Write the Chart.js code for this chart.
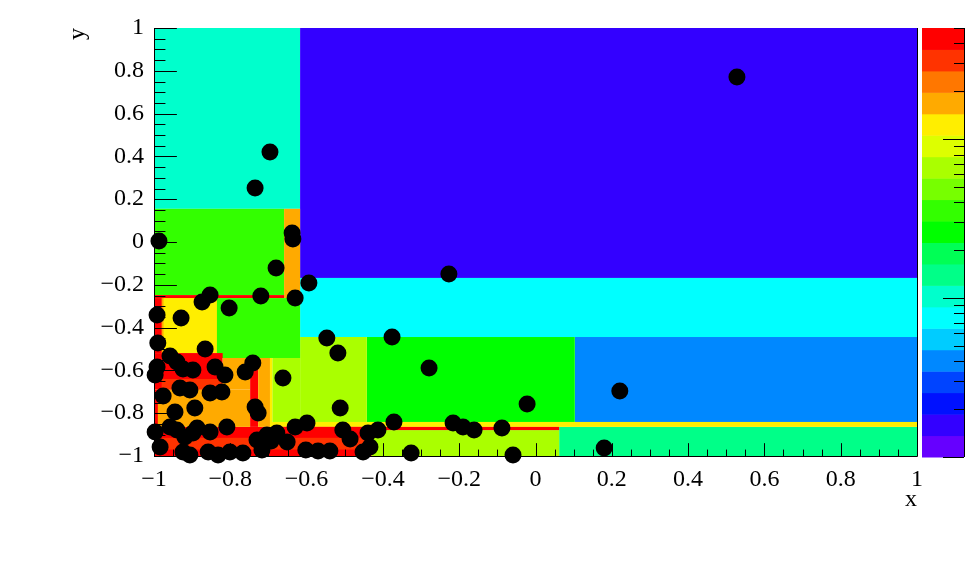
<!DOCTYPE html>
<html>
<head>
<meta charset="utf-8">
<script src="https://cdn.jsdelivr.net/npm/chart.js@4.4.0/dist/chart.umd.min.js"></script>
<style>
    body { margin: 0; background: #fff; }
</style>
</head>
<body>
<canvas id="kdChart" width="966" height="572"></canvas>
<script>
// palette levels, lowest first (20 contours)
var paletteColors = ['#6600FF', '#3300FF', '#0011FF', '#0044FF', '#0088FF', '#00CCFF', '#00FFFF', '#00FFCC',
    '#00FF88', '#00FF55', '#00FF00', '#33FF00', '#77FF00', '#AAFF00', '#DDFF00', '#FFEE00',
    '#FFAA00', '#FF7700', '#FF3300', '#FF0000'];
var paletteMin = 1;
var paletteMax = 500;

// kd-tree bins: x range, y range, palette level
var binX1 = [-1, -0.617, -0.617, 0.103, -0.442, 0.062, -0.696, -0.43, -0.696, -1, -0.98,
    -1, -0.659, -1, -1, -0.98, -0.975, -0.69, -0.617, -0.835,
    -1, -0.98, -0.82, -1, -1, -0.748, -0.727, -0.696];
var binX2 = [-0.617, 1, 1, 1, 0.103, 1, 1, 0.062, 0.062, -0.43, -0.44,
    -0.659, -0.617, -0.659, -0.835, -0.835, -0.835, -0.617, -0.442, -0.617,
    -0.82, -0.82, -0.748, -0.748, -0.99, -0.727, -0.696, -0.69];
var binY1 = [0.155, -0.168, -0.444, -0.841, -0.841, -1, -0.864, -1, -0.879, -1, -0.97,
    -0.248, -0.262, -0.262, -0.519, -0.519, -0.519, -0.841, -0.841, -0.542,
    -0.69, -0.69, -0.69, -0.864, -0.864, -0.864, -0.864, -0.864];
var binY2 = [1, 1, -0.168, -0.444, -0.444, -0.864, -0.841, -0.879, -0.864, -0.864, -0.915,
    0.155, 0.155, -0.248, -0.262, -0.262, -0.262, -0.542, -0.444, -0.262,
    -0.519, -0.64, -0.542, -0.69, -0.69, -0.542, -0.542, -0.542];
var binLevel = [7, 1, 6, 4, 10, 8, 15, 13, 19, 19, 18,
    11, 16, 19, 19, 16, 15, 13, 13, 11,
    19, 18, 16, 16, 19, 19, 16, 15];

// sample points
var pointsX = [0.528, -0.696, -0.735, -0.987, -0.638, -0.636, -0.680, -0.594, -0.630, -0.720,
    -0.853, -0.874, -0.803, -0.992, -0.929, -0.227, -0.547, -0.518, -0.376, -0.279,
    -0.022, 0.221, 0.180, -0.059, -0.088, -0.161, -0.190, -0.216, -0.326, -0.371,
    -0.413, -0.439, -0.434, -0.452, -0.505, -0.486, -0.512, -0.539, -0.570, -0.602,
    -0.599, -0.630, -0.651, -0.678, -0.704, -0.730, -0.662, -0.735, -0.727, -0.741,
    -0.761, -0.809, -0.853, -0.840, -0.814, -0.866, -0.990, -0.958, -0.940, -0.992,
    -0.997, -0.924, -0.898, -0.932, -0.906, -0.853, -0.822, -0.976, -0.893, -0.945,
    -0.997, -0.984, -0.958, -0.940, -0.919, -0.898, -0.887, -0.924, -0.906, -0.858,
    -0.832, -0.801, -0.767, -0.717, -0.693];
var pointsY = [0.771, 0.421, 0.252, 0.005, 0.042, 0.014, -0.121, -0.192, -0.262, -0.252,
    -0.248, -0.280, -0.308, -0.341, -0.355, -0.150, -0.449, -0.519, -0.444, -0.589,
    -0.757, -0.696, -0.963, -0.995, -0.869, -0.879, -0.864, -0.846, -0.986, -0.841,
    -0.879, -0.893, -0.958, -0.981, -0.879, -0.921, -0.776, -0.977, -0.977, -0.972,
    -0.846, -0.864, -0.935, -0.893, -0.902, -0.925, -0.636, -0.771, -0.799, -0.565,
    -0.607, -0.864, -0.888, -0.584, -0.621, -0.500, -0.472, -0.533, -0.561, -0.584,
    -0.621, -0.593, -0.598, -0.682, -0.692, -0.706, -0.701, -0.720, -0.776, -0.794,
    -0.888, -0.958, -0.864, -0.879, -0.911, -0.893, -0.869, -0.981, -0.995, -0.981,
    -0.995, -0.981, -0.986, -0.972, -0.930];

var axisTicks = [-1, -0.8, -0.6, -0.4, -0.2, 0, 0.2, 0.4, 0.6, 0.8, 1];

var points = [];
for (var i = 0; i < pointsX.length; i++) {
    points.push({ x: pointsX[i], y: pointsY[i] });
}

function tickText(v) {
    var s = (Math.round(v * 10) / 10).toString();
    return s.replace('-', '\u2212');
}

var serif = '"Liberation Serif", "DejaVu Serif", serif';

// bins, frame, inward ticks and the colour palette
var kdPlugin = {
    id: 'kdPlugin',
    beforeDatasetsDraw: function (chart) {
        var ctx = chart.ctx;
        var xs = chart.scales.x, ys = chart.scales.y;
        var area = chart.chartArea;
        ctx.save();
        for (var i = 0; i < binX1.length; i++) {
            var l = xs.getPixelForValue(binX1[i]);
            var r = xs.getPixelForValue(binX2[i]);
            var t = ys.getPixelForValue(binY2[i]);
            var b = ys.getPixelForValue(binY1[i]);
            ctx.fillStyle = paletteColors[binLevel[i]];
            ctx.fillRect(l, t, r - l, b - t);
        }
        // frame
        ctx.strokeStyle = '#000';
        ctx.lineWidth = 1;
        ctx.beginPath();
        ctx.moveTo(area.left + 0.5, area.top);
        ctx.lineTo(area.left + 0.5, area.bottom + 0.5);
        ctx.lineTo(area.right + 0.5, area.bottom + 0.5);
        ctx.lineTo(area.right + 0.5, area.top);
        ctx.stroke();
        // ticks
        var h = area.bottom - area.top, w = area.right - area.left;
        ctx.beginPath();
        for (var k = 0; k <= 40; k++) {
            var v = -1 + k * 0.05;
            var major = (k % 4 === 0);
            var px = Math.round(xs.getPixelForValue(v)) + 0.5;
            var lenX = (major ? 0.03 : 0.015) * h;
            ctx.moveTo(px, area.bottom);
            ctx.lineTo(px, area.bottom - lenX);
            var py = Math.round(ys.getPixelForValue(v)) + 0.5;
            var lenY = (major ? 0.03 : 0.015) * w;
            ctx.moveTo(area.left, py);
            ctx.lineTo(area.left + lenY, py);
        }
        ctx.stroke();
        ctx.restore();
    },
    afterDraw: function (chart) {
        var ctx = chart.ctx;
        var area = chart.chartArea;
        var pl = area.right + 5, pr = area.right + 47;
        var top = area.top, bot = area.bottom + 1;
        var n = paletteColors.length;
        var step = (bot - top) / n;
        ctx.save();
        for (var i = 0; i < n; i++) {
            ctx.fillStyle = paletteColors[i];
            ctx.fillRect(pl, bot - (i + 1) * step, pr - pl, step + 0.5);
        }
        // palette axis (log scale)
        var lmin = Math.log10(paletteMin), lmax = Math.log10(paletteMax);
        ctx.strokeStyle = '#000';
        ctx.lineWidth = 1;
        ctx.beginPath();
        ctx.moveTo(pr + 0.5, top);
        ctx.lineTo(pr + 0.5, bot);
        for (var d = paletteMin; d <= paletteMax; d *= 10) {
            for (var m = 1; m <= 9; m++) {
                var v = d * m;
                if (v > paletteMax + 1e-9) break;
                var y = bot - (Math.log10(v) - lmin) / (lmax - lmin) * (bot - top);
                y = Math.round(y) + 0.5;
                var len = (m === 1) ? 21 : 10;
                ctx.moveTo(pr, y);
                ctx.lineTo(pr - len, y);
            }
        }
        ctx.stroke();
        ctx.restore();
    }
};

var ctx = document.getElementById('kdChart').getContext('2d');
var kdChart = new Chart(ctx, {
    type: 'scatter',
    data: {
        datasets: [{
            data: points,
            backgroundColor: '#000',
            borderWidth: 0,
            pointRadius: 8.5,
            pointHoverRadius: 8.5,
            clip: false
        }]
    },
    options: {
        responsive: false,
        animation: false,
        events: [],
        layout: { padding: { left: 0, top: 28, right: 49, bottom: 0 } },
        plugins: { legend: { display: false }, tooltip: { enabled: false } },
        scales: {
            x: {
                type: 'linear', min: -1, max: 1,
                afterBuildTicks: function (scale) {
                    scale.ticks = axisTicks.map(function (v) { return { value: v }; });
                },
                afterFit: function (scale) { scale.height = 116; },
                grid: { display: false, drawTicks: false },
                border: { display: false },
                ticks: {
                    autoSkip: false, maxRotation: 0, padding: 9, color: '#000',
                    font: { family: serif, size: 24 },
                    callback: tickText
                },
                title: {
                    display: true, text: 'x', align: 'end', color: '#000',
                    font: { family: serif, size: 24 },
                    padding: { top: 0, bottom: 58 }
                }
            },
            y: {
                type: 'linear', min: -1, max: 1,
                afterBuildTicks: function (scale) {
                    scale.ticks = axisTicks.map(function (v) { return { value: v }; });
                },
                afterFit: function (scale) { scale.width = 154; },
                grid: { display: false, drawTicks: false },
                border: { display: false },
                ticks: {
                    autoSkip: false, padding: 10, color: '#000',
                    font: { family: serif, size: 24 },
                    callback: tickText
                },
                title: {
                    display: true, text: 'y', align: 'end', color: '#000',
                    font: { family: serif, size: 24 },
                    padding: { top: 63, bottom: 0 }
                }
            }
        }
    },
    plugins: [kdPlugin]
});
</script>
</body>
</html>
